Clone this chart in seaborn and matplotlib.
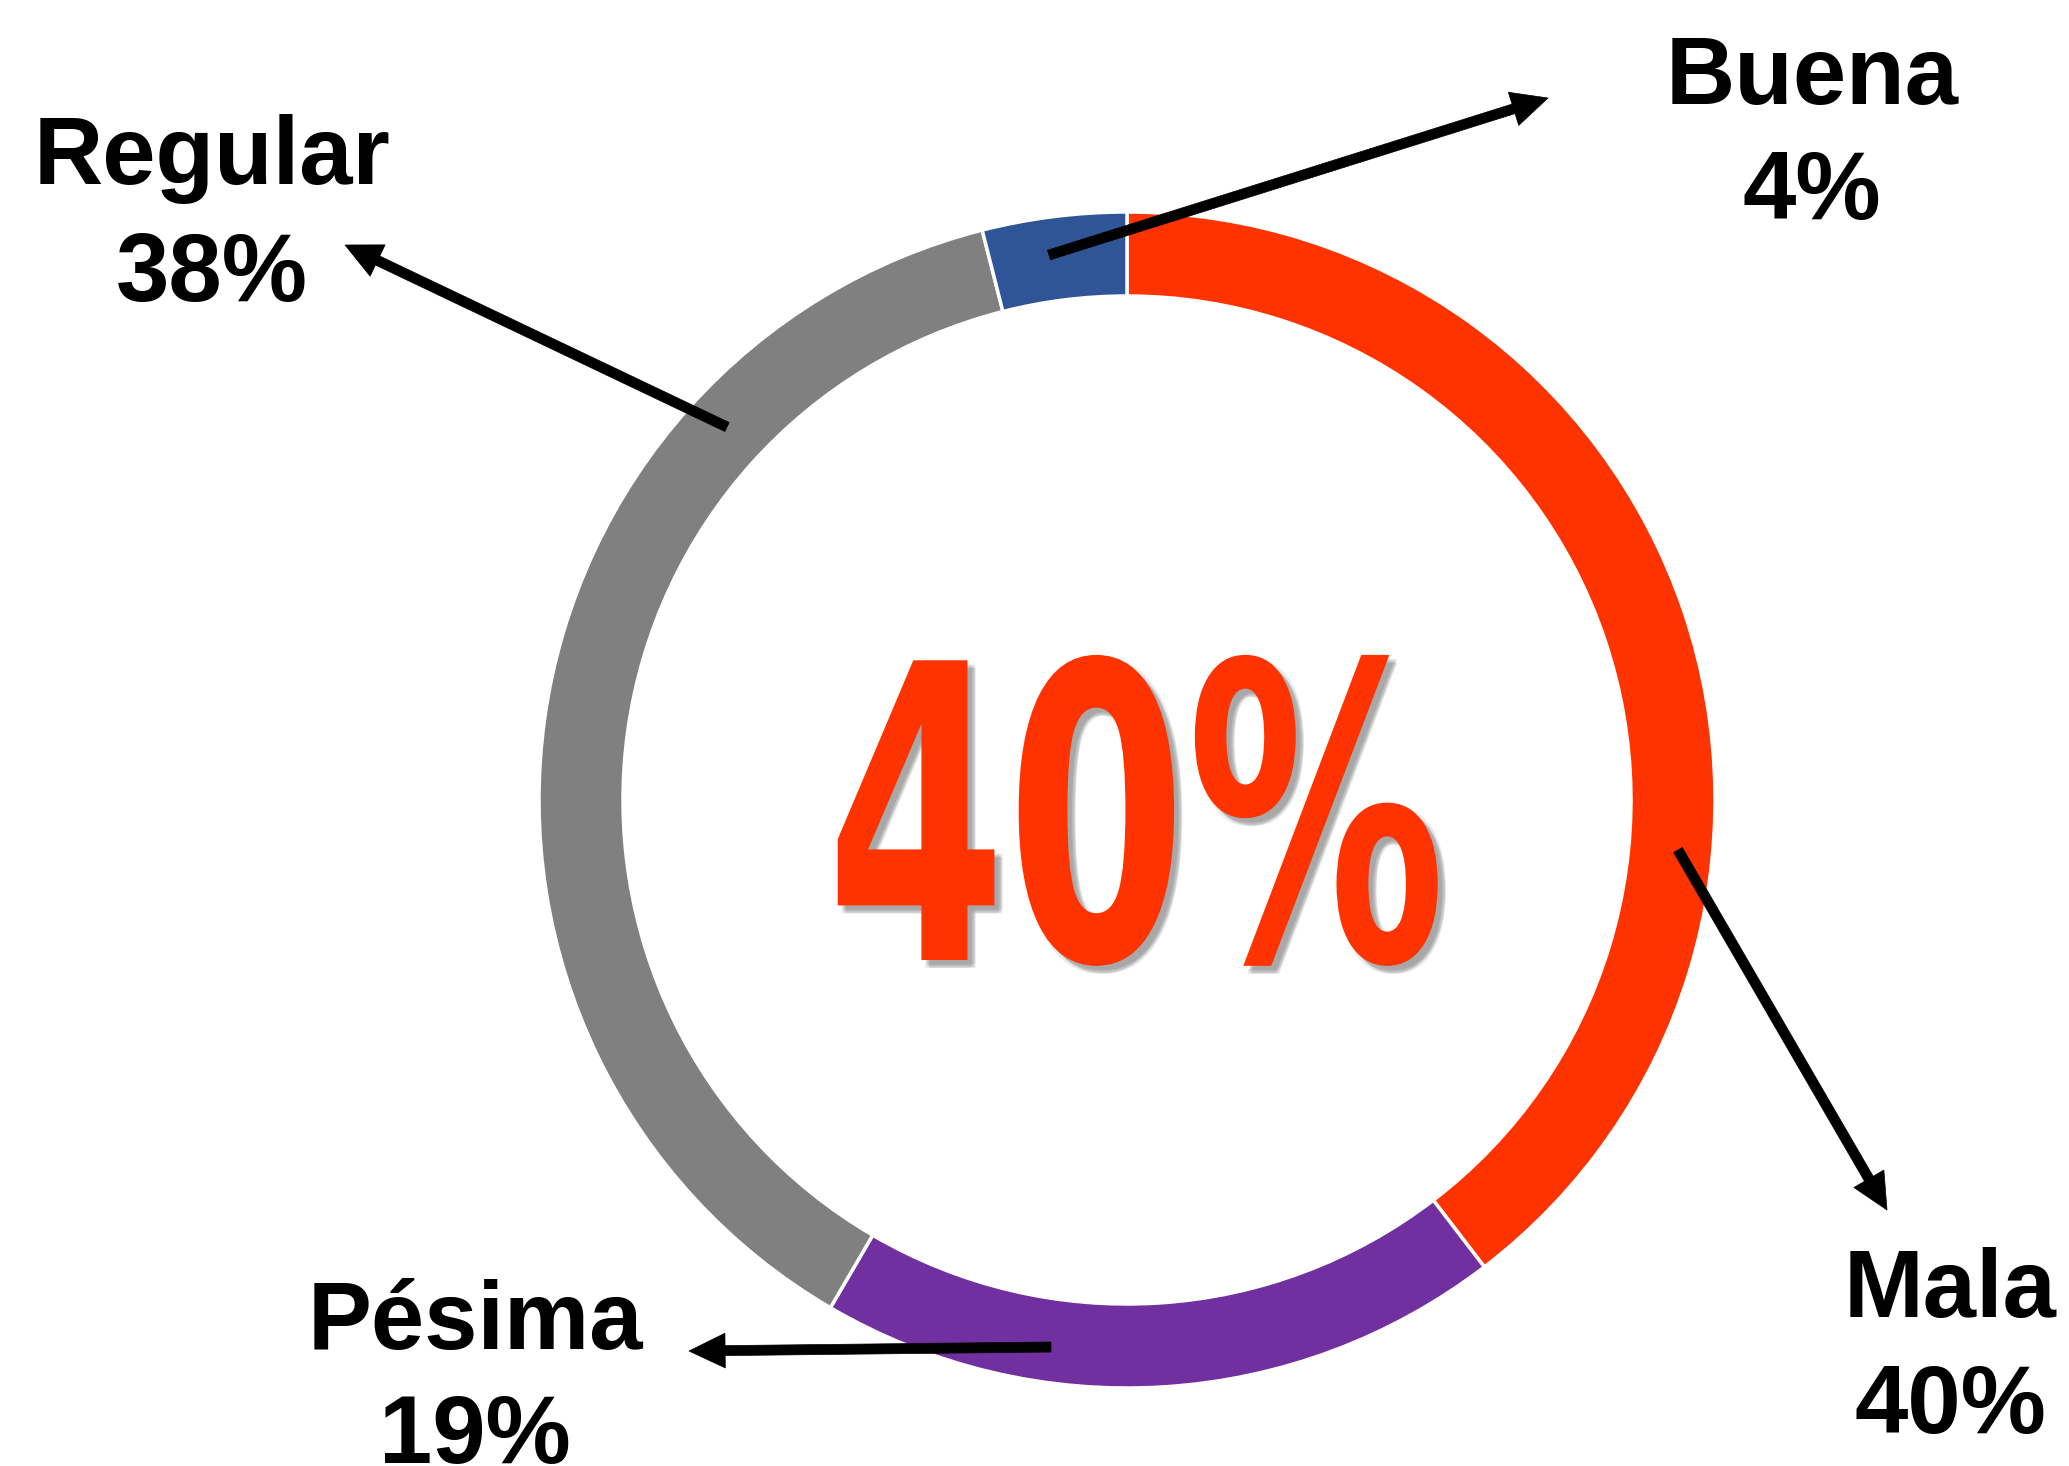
import matplotlib
matplotlib.use("Agg")
import matplotlib.pyplot as plt
import matplotlib.colors as mcolors
from matplotlib.patheffects import AbstractPathEffect
from matplotlib.transforms import Affine2D
import seaborn as sns

# data
categorias = ["Mala", "Pésima", "Regular", "Buena"]
valores = [40, 19, 38, 4]
colores = ["#FF3300", "#7030A0", "#808080", "#2F5597"]

W, H = 2069, 1466


class Squeeze(AbstractPathEffect):
    """draw text squeezed horizontally around cx (display px), optional offset/color"""

    def __init__(self, cx, sx, offset=(0, 0), color=None, alpha=None):
        super().__init__()
        self.cx, self.sx = cx, sx
        self.dx, self.dy = offset
        self.color, self.alpha = color, alpha

    def draw_path(self, renderer, gc, tpath, affine, rgbFace=None):
        t = affine + Affine2D().translate(-self.cx, 0).scale(self.sx, 1).translate(self.cx + self.dx, self.dy)
        gc0 = renderer.new_gc()
        gc0.copy_properties(gc)
        if self.color is not None:
            rgbFace = mcolors.to_rgba(self.color)
            gc0.set_foreground(self.color)
        if self.alpha is not None:
            gc0.set_alpha(self.alpha)
        renderer.draw_path(gc0, tpath, t, rgbFace)
        gc0.restore()


sns.set_theme(style="white")
plt.rcParams["font.family"] = ["Liberation Sans", "DejaVu Sans"]

fig = plt.figure(figsize=(W / 100, H / 100), dpi=100)
ax = fig.add_axes([0, 0, 1, 1])

cx, cy = 1127, H - 800
ax.pie(valores, colors=colores, startangle=90, counterclock=False,
       radius=588, center=(cx, cy),
       wedgeprops=dict(width=84, edgecolor="white", linewidth=2.5))
ax.set_xlim(0, W)
ax.set_ylim(0, H)
ax.set_aspect("auto")
ax.axis("off")

# big number in the middle
tx = 1136
sx = 0.63
shadow = []
for ddx, ddy in [(5, -5), (8, -8), (4, -8), (8, -4), (6, -6), (7, -7)]:
    shadow.append(Squeeze(tx, sx, offset=(ddx, ddy), color="#777777", alpha=0.15))
ax.text(tx, H - 960, f"{valores[0]}%", ha="center", va="baseline",
        fontsize=296, fontweight="bold", family="DejaVu Sans", color="#FF3300",
        path_effects=shadow + [Squeeze(tx, sx)])

# labels: (x centre, baseline of name, baseline of percent)
pos_labels = {
    "Mala": (1950, 1317, 1433),
    "Pésima": (475, 1349, 1463),
    "Regular": (212, 184, 301),
    "Buena": (1812, 104, 219),
}
for cat, v in zip(categorias, valores):
    x, b1, b2 = pos_labels[cat]
    ax.text(x, H - b1, cat, ha="center", va="baseline", fontsize=69, fontweight="bold", color="black")
    ax.text(x, H - b2, f"{v}%", ha="center", va="baseline", fontsize=69, fontweight="bold", color="black")

# arrows (tail -> tip)
flechas = {
    "Mala": ((1678, 850), (1887, 1210)),
    "Pésima": ((1051, 1347), (689, 1351)),
    "Regular": ((727, 427), (345, 245)),
    "Buena": ((1049, 255), (1548, 98)),
}
for cat in categorias:
    (x0, y0), (x1, y1) = flechas[cat]
    ax.annotate("", xy=(x1, H - y1), xytext=(x0, H - y0),
                arrowprops=dict(width=7.2, headwidth=25, headlength=26, shrink=0,
                                facecolor="black", edgecolor="black", linewidth=0.5))

fig.savefig("out.png", dpi=100, facecolor="white")
